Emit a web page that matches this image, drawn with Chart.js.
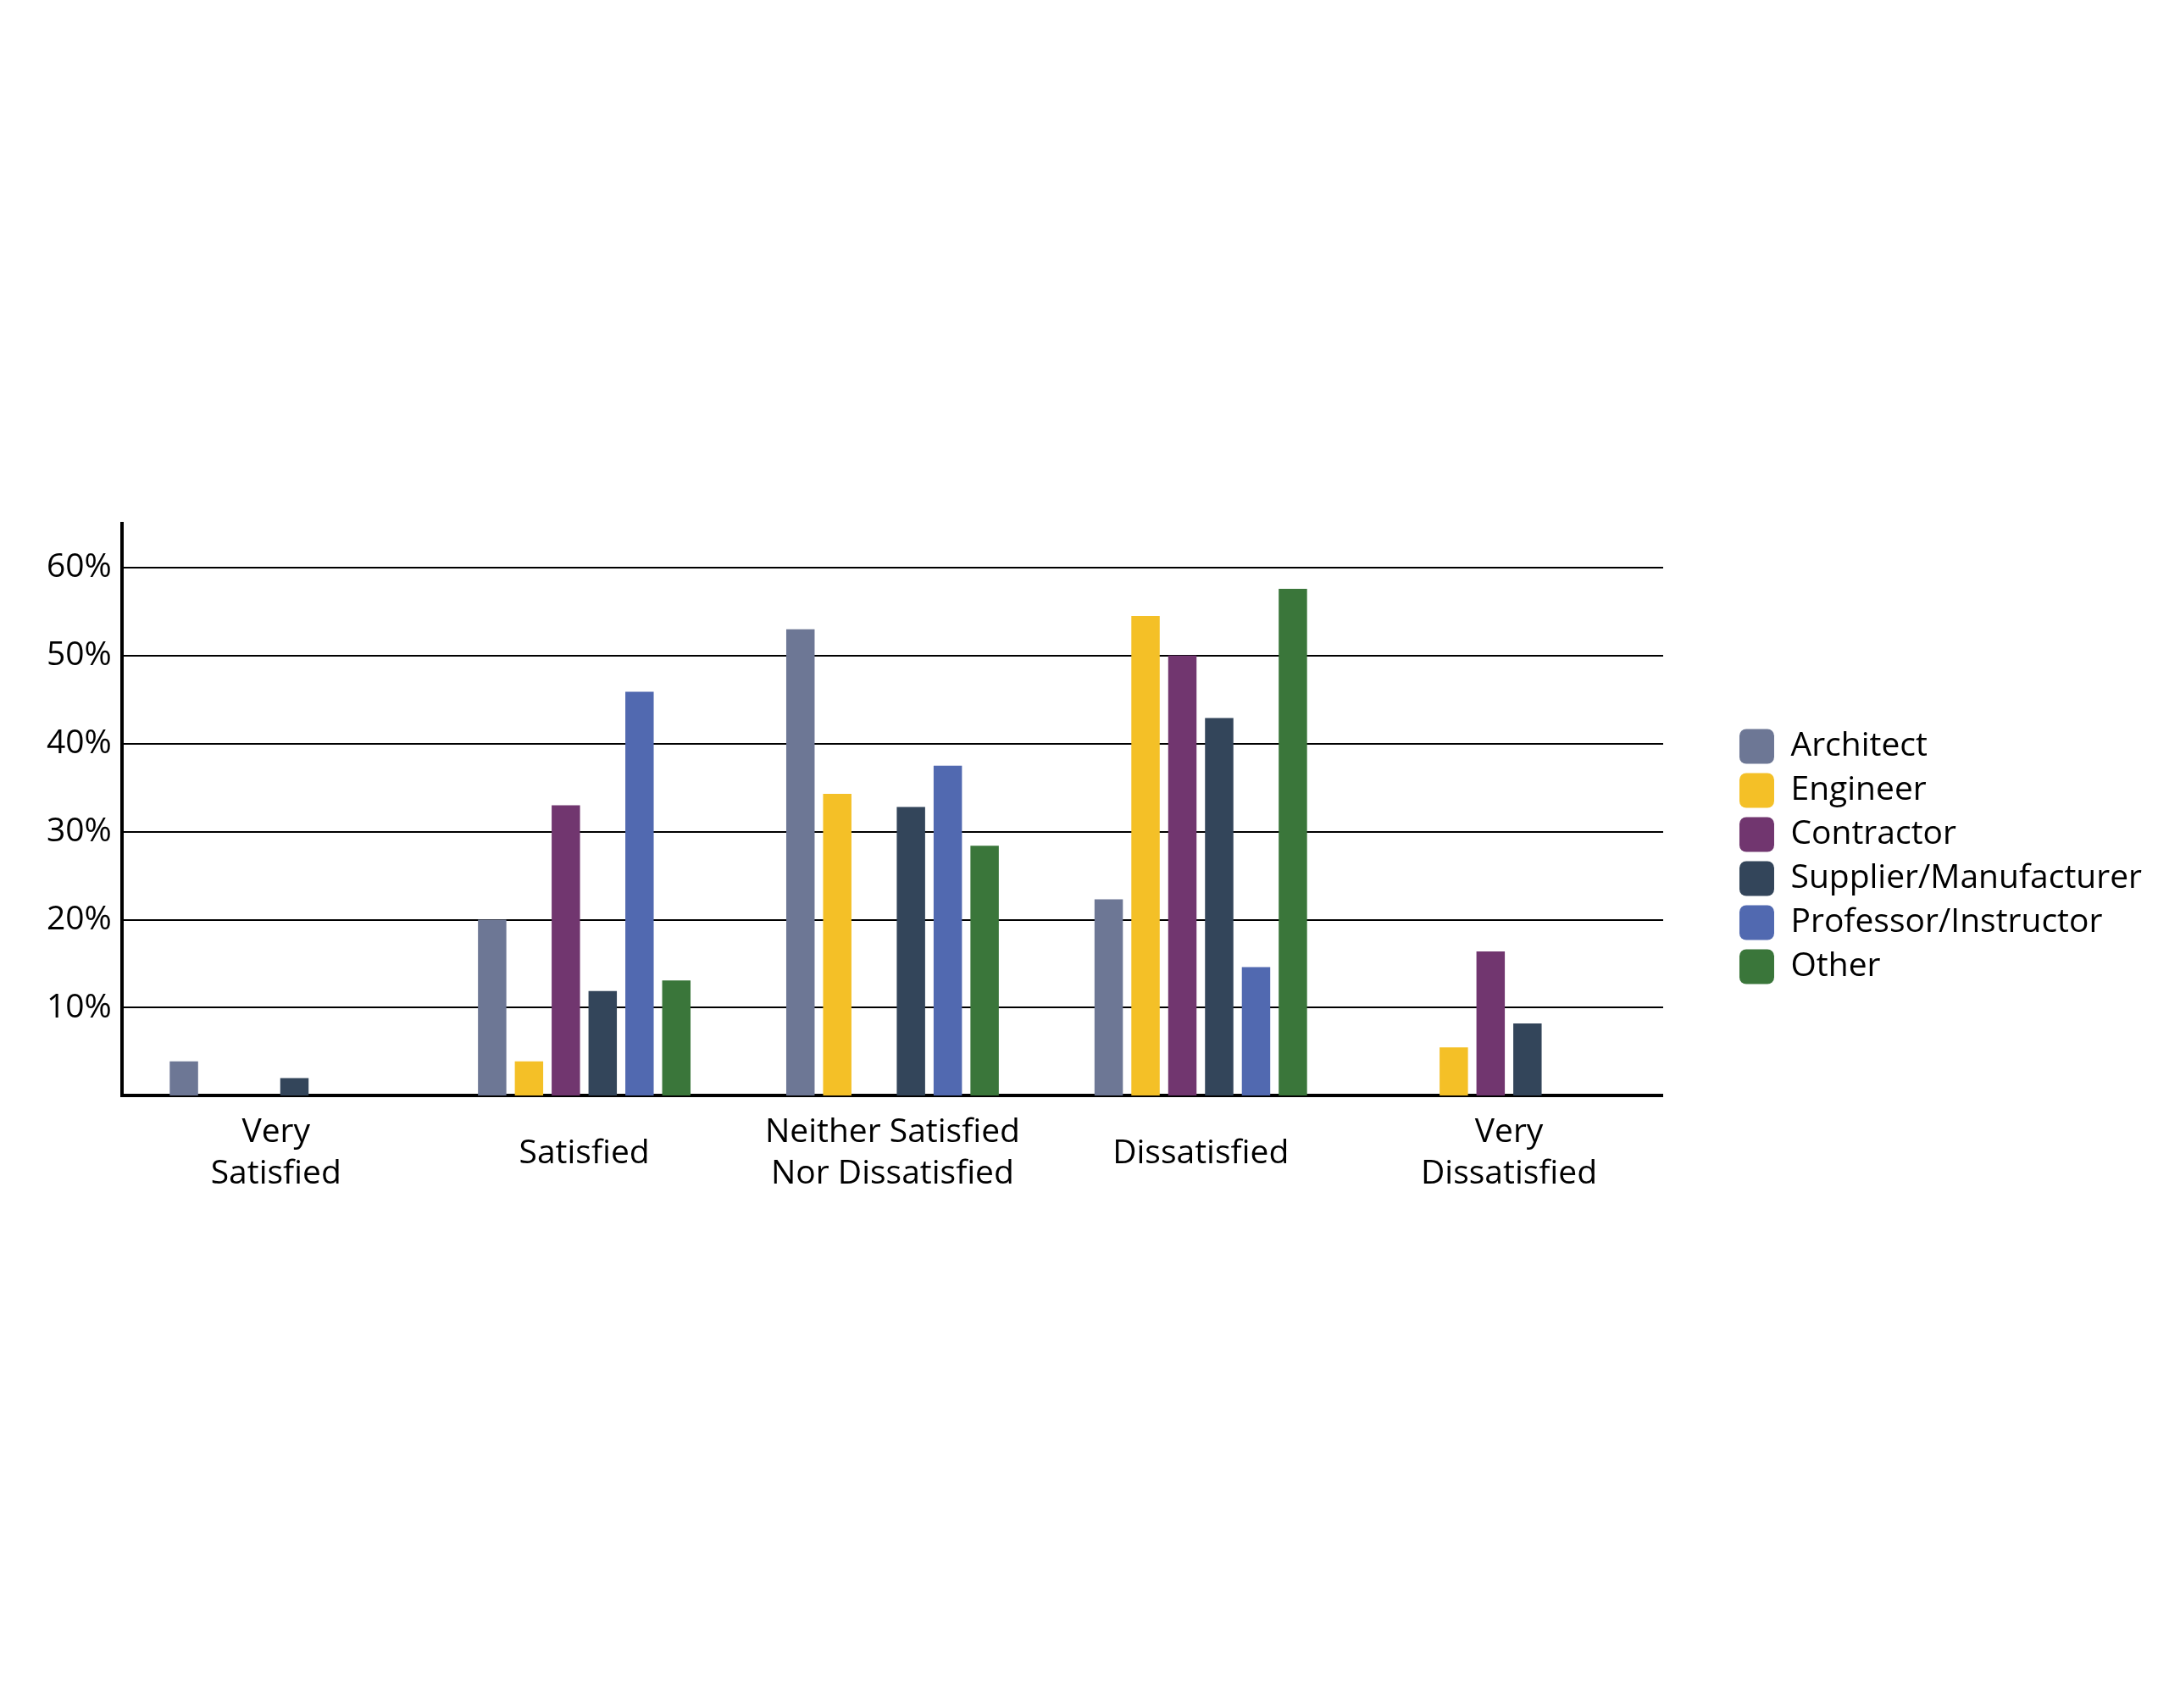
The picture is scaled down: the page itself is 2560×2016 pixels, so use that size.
<!DOCTYPE html>
<html>
<head>
<meta charset="utf-8">
<script src="https://cdn.jsdelivr.net/npm/chart.js@4/dist/chart.umd.min.js"></script>
<style>
  html, body { margin: 0; padding: 0; background: #fff; }
  #wrap { position: relative; width: 2560px; height: 2016px; }
</style>
</head>
<body>
<div id="wrap"><canvas id="satisfactionChart"></canvas></div>
<script>
const categories = [
  ['Very', 'Satisfied'],
  'Satisfied',
  ['Neither Satisfied', 'Nor Dissatisfied'],
  'Dissatisfied',
  ['Very', 'Dissatisfied']
];

const architect  = [3.9, 20, 53, 22.3, 0];
const engineer   = [0, 3.9, 34.3, 54.5, 5.5];
const contractor = [0, 33, 0, 50, 16.4];
const supplier   = [2, 11.9, 32.8, 42.9, 8.2];
const professor  = [0, 45.9, 37.5, 14.6, 0];
const other      = [0, 13.1, 28.4, 57.6, 0];

const yTicks = [10, 20, 30, 40, 50, 60];

const series = [
  { label: 'Architect', data: architect, color: '#6d7795' },
  { label: 'Engineer', data: engineer, color: '#f4c027' },
  { label: 'Contractor', data: contractor, color: '#71366f' },
  { label: 'Supplier/Manufacturer', data: supplier, color: '#33455a' },
  { label: 'Professor/Instructor', data: professor, color: '#5169b0' },
  { label: 'Other', data: other, color: '#3a763a' }
];

Chart.defaults.font.family = "'Open Sans', 'Noto Sans', sans-serif";
Chart.defaults.font.weight = 500;
Chart.defaults.color = '#000';

// push the legend a bit away from the plot, like the original
const legendShift = {
  id: 'legendShift',
  afterLayout(chart) {
    const lg = chart.legend;
    lg.left += 79;
    lg.right += 79;
    lg.top -= 37;
    lg.bottom -= 37;
  }
};

new Chart('satisfactionChart', {
  type: 'bar',
  data: {
    labels: categories,
    datasets: series.map((s) => ({
      label: s.label,
      data: s.data,
      backgroundColor: s.color,
      borderWidth: 0,
      barPercentage: 0.77,
      categoryPercentage: 0.717
    }))
  },
  options: {
    responsive: true,
    maintainAspectRatio: false,
    animation: false,
    layout: {
      padding: { top: 618, left: 43, right: 101, bottom: 538 }
    },
    plugins: {
      tooltip: { enabled: false },
      legend: {
        position: 'right',
        align: 'center',
        labels: {
          boxWidth: 41,
          boxHeight: 41,
          padding: 11,
          useBorderRadius: true,
          borderRadius: 8,
          font: { size: 39 },
          color: '#000'
        }
      }
    },
    scales: {
      x: {
        grid: { display: false, drawTicks: false },
        border: { display: true, color: '#000', width: 4 },
        ticks: {
          font: { size: 39, lineHeight: 1.24 },
          color: '#000',
          padding: 44,
          maxRotation: 0,
          autoSkip: false,
          crossAlign: 'center'
        }
      },
      y: {
        min: 0,
        max: 65,
        afterBuildTicks: (scale) => {
          scale.ticks = yTicks.map((v) => ({ value: v }));
        },
        grid: { color: '#000', lineWidth: 2, drawTicks: false },
        border: { display: true, color: '#000', width: 4 },
        ticks: {
          font: { size: 39 },
          color: '#000',
          padding: 12,
          callback: (v) => `${v}%`
        }
      }
    }
  },
  plugins: [legendShift]
});
</script>
</body>
</html>
